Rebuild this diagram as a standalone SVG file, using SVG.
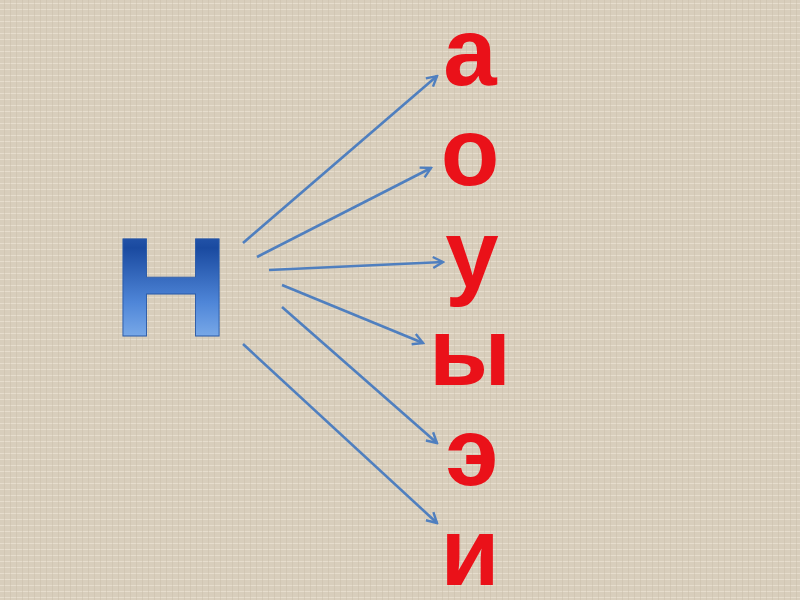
<svg xmlns="http://www.w3.org/2000/svg" width="800" height="600" viewBox="0 0 800 600">
<defs>
<pattern id="tex" width="12" height="12" patternUnits="userSpaceOnUse">
<rect width="12" height="12" fill="#d8cebc"/>
<path d="M0 3.5H12M0 9.5H12" stroke="#e6ddcd" stroke-width="1"/>
<path d="M4.5 0V12M10.5 0V12" stroke="#c9bea9" stroke-width="0.8" opacity="0.6"/>
</pattern>
<linearGradient id="hg" x1="0" y1="0" x2="0" y2="1">
<stop offset="0" stop-color="#3a6cc0"/>
<stop offset="0.25" stop-color="#1a4aa0"/>
<stop offset="0.6" stop-color="#4f86d8"/>
<stop offset="1" stop-color="#9cc6f5"/>
</linearGradient>
<marker id="ah" markerWidth="14" markerHeight="14" refX="12" refY="7" orient="auto" markerUnits="userSpaceOnUse">
<path d="M2 1.5L12 7L2 12.5" fill="none" stroke="#4f7fbf" stroke-width="2.4"/>
</marker>
<style>
.ltr{font-family:"Liberation Sans",Arial,sans-serif;font-weight:bold;font-size:96px;fill:#ea1119;text-anchor:middle}
.arr{fill:none;stroke:#4f7fbf;stroke-width:2.6;marker-end:url(#ah)}
</style>
</defs>
<rect width="800" height="600" fill="url(#tex)"/>
<g id="node-n">
<text x="171" y="336" transform="translate(171 0) scale(1.16 1) translate(-171 0)" font-family="'Liberation Sans',Arial,sans-serif" font-weight="bold" font-size="141" fill="url(#hg)" text-anchor="middle" stroke="#2a5aa8" stroke-width="0.8">Н</text>
</g>
<g id="node-a"><text class="ltr" x="470" y="85">а</text></g>
<g id="node-o"><text class="ltr" x="470" y="185">о</text></g>
<g id="node-u"><text class="ltr" x="472" y="287">у</text></g>
<g id="node-y"><text class="ltr" x="470" y="385">ы</text></g>
<g id="node-e"><text class="ltr" x="472" y="485">э</text></g>
<g id="node-i"><text class="ltr" x="470" y="585">и</text></g>
<g id="connectors">
<path class="arr" d="M243 243L437 76"/>
<path class="arr" d="M257 257L431 168"/>
<path class="arr" d="M269 270L443 262"/>
<path class="arr" d="M282 285L423 343"/>
<path class="arr" d="M282 307L437 443"/>
<path class="arr" d="M243 344L437 523"/>
</g>
</svg>
